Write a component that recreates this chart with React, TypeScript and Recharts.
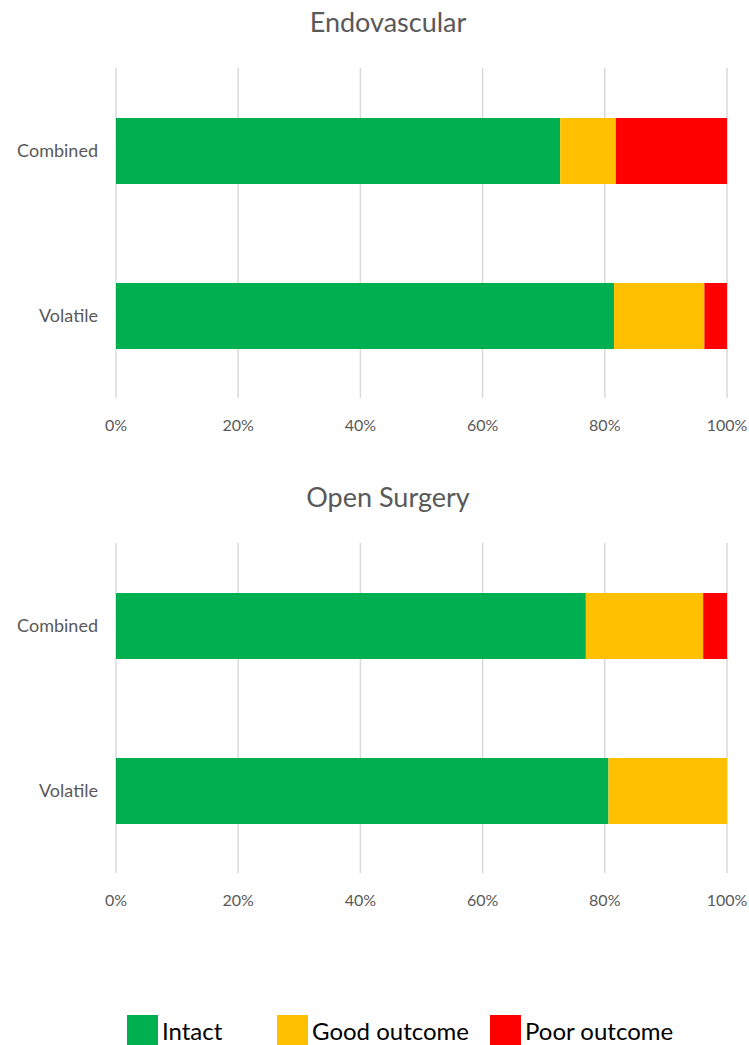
import React from "react";
import { BarChart, Bar, XAxis, YAxis, CartesianGrid } from "recharts";

const categories = ["Combined", "Volatile"];
const seriesNames = ["Intact", "Good outcome", "Poor outcome"];
const seriesKeys = ["intact", "good", "poor"];
const seriesColors = ["#00B050", "#FFC000", "#FF0000"];

const endoIntact = [0.727, 0.815];
const endoGood = [0.091, 0.148];
const endoPoor = [0.182, 0.037];

const openIntact = [0.769, 0.806];
const openGood = [0.192, 0.194];
const openPoor = [0.039, 0.0];

const xTicks = [0, 0.2, 0.4, 0.6, 0.8, 1];
const chartTitles = ["Endovascular", "Open Surgery"];

const FONT = "Lato, 'Noto Sans', sans-serif";
const GRAY = "#595959";

function build(intact: number[], good: number[], poor: number[]) {
  return categories.map((name, i) => ({
    name,
    intact: intact[i],
    good: good[i],
    poor: poor[i],
  }));
}

const datasets = [
  build(endoIntact, endoGood, endoPoor),
  build(openIntact, openGood, openPoor),
];

function Panel({ data, title, top }: { data: any[]; title: string; top: number }) {
  return (
    <div style={{ position: "absolute", left: 0, top, width: 749, height: 450 }}>
      <div
        style={{
          position: "absolute",
          left: 238,
          width: 300,
          top: 6,
          height: 32,
          lineHeight: "32px",
          textAlign: "center",
          fontFamily: FONT,
          fontSize: 27,
          color: GRAY,
        }}
      >
        {title}
      </div>
      <BarChart
        width={749}
        height={450}
        data={data}
        layout="vertical"
        margin={{ top: 68, right: 22, left: 0, bottom: 20 }}
        style={{ overflow: "visible" }}
      >
        <CartesianGrid horizontal={false} vertical={true} stroke="#d9d9d9" strokeWidth={1.5} />
        <XAxis
          type="number"
          domain={[0, 1]}
          ticks={xTicks}
          tickFormatter={(v: number) => `${Math.round(v * 100)}%`}
          axisLine={false}
          tickLine={false}
          height={32}
          tickMargin={16}
          interval={0}
          tick={{ fontSize: 16, fill: GRAY, fontFamily: FONT }}
          allowDataOverflow
        />
        <YAxis
          type="category"
          dataKey="name"
          width={116}
          axisLine={false}
          tickLine={false}
          tickMargin={12}
          tick={{ fontSize: 18, fill: GRAY, fontFamily: FONT }}
        />
        {seriesKeys.map((k, i) => (
          <Bar
            key={k}
            dataKey={k}
            name={seriesNames[i]}
            stackId="a"
            fill={seriesColors[i]}
            barSize={66}
            isAnimationActive={false}
          />
        ))}
      </BarChart>
    </div>
  );
}

const legendLefts = [127, 277, 490];

export default function App() {
  return (
    <div
      style={{
        position: "absolute",
        left: 0,
        top: 0,
        width: 749,
        height: 1045,
        background: "#fff",
        overflow: "hidden",
      }}
    >
      <Panel data={datasets[0]} title={chartTitles[0]} top={0} />
      <Panel data={datasets[1]} title={chartTitles[1]} top={475} />
      {seriesNames.map((n, i) => (
        <div
          key={n}
          style={{
            position: "absolute",
            left: legendLefts[i],
            top: 1015,
            height: 30,
            display: "flex",
            alignItems: "center",
            fontFamily: FONT,
            fontSize: 24,
            color: "#000",
            whiteSpace: "nowrap",
          }}
        >
          <span
            style={{
              display: "inline-block",
              width: 31,
              height: 30,
              background: seriesColors[i],
              marginRight: 4,
            }}
          />
          <span>{n}</span>
        </div>
      ))}
    </div>
  );
}
